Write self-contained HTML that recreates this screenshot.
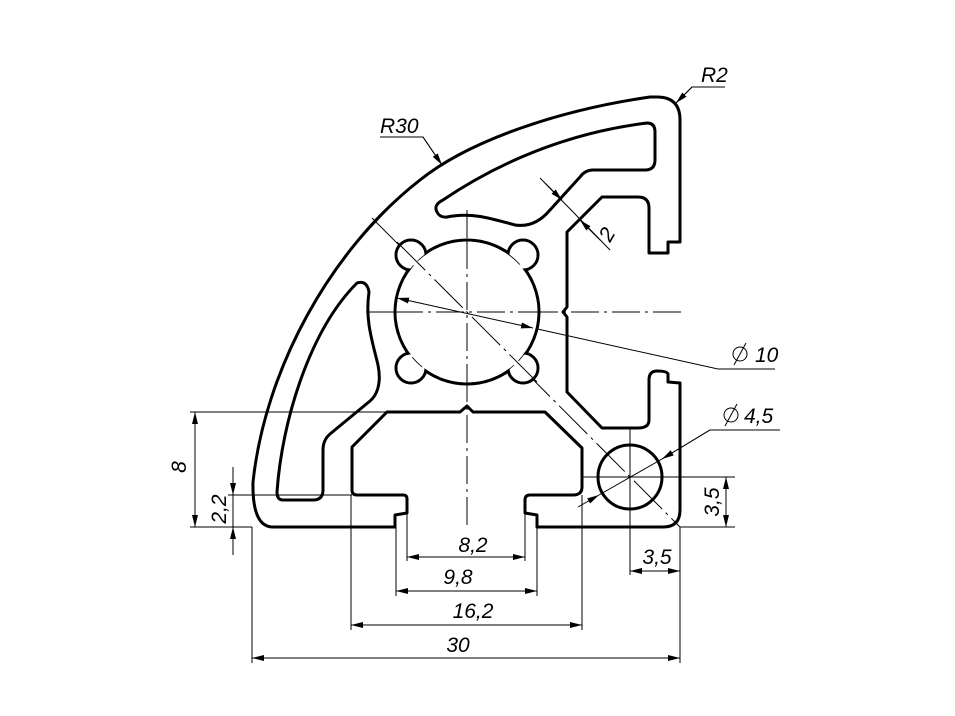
<!DOCTYPE html>
<html><head><meta charset="utf-8"><style>
html,body{margin:0;padding:0;background:#fff;}
svg{display:block}
text{font-family:"Liberation Sans",sans-serif;font-style:italic;font-size:21px;fill:#000}
</style></head><body>
<svg width="955" height="716" viewBox="0 0 955 716" xmlns="http://www.w3.org/2000/svg">
<defs>
<marker id="a" viewBox="0 0 12 6" refX="12" refY="3" markerWidth="12" markerHeight="6" markerUnits="userSpaceOnUse" orient="auto-start-reverse">
<path d="M0,0 L12,3 L0,6 Z" fill="#000"/>
</marker>
</defs>
<rect width="955" height="716" fill="#fff"/>

<!-- thin lines -->
<g stroke="#000" stroke-width="1" fill="none">
<!-- center lines -->
<line x1="366" y1="312" x2="682" y2="312" stroke-dasharray="28,5,3,5"/>
<line x1="467" y1="210" x2="467" y2="527" stroke-dasharray="28,5,3,5"/>
<line x1="372" y1="218" x2="680" y2="527" stroke-dasharray="40,5,3,5"/>
<circle cx="467" cy="312" r="71" stroke-width="0.8"/>
<line x1="583" y1="477" x2="735" y2="477"/>
<line x1="630" y1="428" x2="630" y2="575"/>
<!-- extension lines -->
<line x1="190" y1="412" x2="390" y2="412"/>
<line x1="190" y1="527" x2="252" y2="527"/>
<line x1="228" y1="495" x2="352" y2="495"/>
<line x1="680" y1="527" x2="735" y2="527"/>
<line x1="252" y1="527" x2="252" y2="663"/>
<line x1="680" y1="527" x2="680" y2="663"/>
<line x1="351" y1="495" x2="351" y2="630"/>
<line x1="582" y1="495" x2="582" y2="630"/>
<line x1="396" y1="527" x2="396" y2="596"/>
<line x1="537" y1="527" x2="537" y2="596"/>
<line x1="407" y1="513" x2="407" y2="561"/>
<line x1="525" y1="513" x2="525" y2="561"/>
<!-- dimension lines -->
<line x1="195" y1="412" x2="195" y2="527" marker-start="url(#a)" marker-end="url(#a)"/>
<line x1="233" y1="467" x2="233" y2="495" marker-end="url(#a)"/>
<line x1="233" y1="555" x2="233" y2="527" marker-end="url(#a)"/>
<line x1="233" y1="495" x2="233" y2="527"/>
<line x1="407" y1="557" x2="525" y2="557" marker-start="url(#a)" marker-end="url(#a)"/>
<line x1="396" y1="591" x2="537" y2="591" marker-start="url(#a)" marker-end="url(#a)"/>
<line x1="351" y1="625" x2="582" y2="625" marker-start="url(#a)" marker-end="url(#a)"/>
<line x1="252" y1="658" x2="680" y2="658" marker-start="url(#a)" marker-end="url(#a)"/>
<line x1="630" y1="571" x2="680" y2="571" marker-start="url(#a)" marker-end="url(#a)"/>
<line x1="726" y1="477" x2="726" y2="527" marker-start="url(#a)" marker-end="url(#a)"/>
<!-- diameter leaders -->
<line x1="397" y1="298" x2="533" y2="328" marker-start="url(#a)" marker-end="url(#a)"/>
<polyline points="533,328 718,369 775,369"/>
<line x1="578" y1="507" x2="599" y2="495" marker-end="url(#a)"/>
<line x1="599" y1="495" x2="662" y2="459"/>
<polyline points="662,459 710,430 780,430"/>
<line x1="710" y1="430" x2="662" y2="459" marker-end="url(#a)"/>
<!-- R30 -->
<polyline points="380,137 423,137 442,165" />
<line x1="423" y1="137" x2="442" y2="165" marker-end="url(#a)"/>
<!-- R2 -->
<polyline points="725,87 692,87 676,103"/>
<line x1="692" y1="87" x2="676" y2="103" marker-end="url(#a)"/>
<!-- 2 wall -->
<line x1="540" y1="178" x2="610" y2="250"/>
<line x1="545" y1="183" x2="562" y2="200" marker-end="url(#a)"/>
<line x1="600" y1="240" x2="580" y2="220" marker-end="url(#a)"/>
<!-- diameter symbols -->
<circle cx="740" cy="354" r="7"/>
<line x1="734" y1="365" x2="746" y2="343"/>
<circle cx="731" cy="415" r="7"/>
<line x1="725" y1="426" x2="737" y2="404"/>
</g>

<!-- profile -->
<g stroke="#000" stroke-width="3" fill="none" stroke-linejoin="round">
<path d="M273,527 L395,527 L395,515 L407,513 L407,499 Q407,495 403,495 L357,495 Q352,495 352,490 L352,447 L387,412 L460,412 L467,406 L473,412 L545,412 L582,448 L582,487 Q582,495 573,495 L530,495 Q525,495 525,500 L525,513 L537,515 L537,527 L663,527 Q680,527 680,510 L680,383 L668,382 L668,374 Q667,371 657,371 Q649,371 649,380 L649,420 Q649,428 638,428 L602,428 L567,392 L567,317 L563,312 L567,307 L567,232 L602,197 L638,197 Q649,197 649,208 L649,253 L668,253 L668,242 L680,242 L680,120 Q680,97 657,97 L650,97 C560,110 470,140 420,180 C330,250 265,370 253,482 Q252,527 273,527 Z"/>
<path d="M437,212 Q433,205 443,200 C480,175 550,135 647,123 Q655,123 655,132 L655,160 Q655,170 645,170 L593,170 Q585,170 580,177 L550,210 Q535,228 515,225 C490,218 470,212 447,217 Q440,218 437,212 Z"/>
<path d="M357,283 Q367,280 369,292 C365,320 372,340 378,365 C382,385 376,396 370,401 L330,434 Q323,440 323,450 L323,490 Q323,500 313,500 L283,500 Q277,500 277,492 C282,420 310,330 357,283 Z"/>
<circle cx="630" cy="477" r="32"/>
<g>
<circle cx="467" cy="312" r="72"/>
<circle cx="411" cy="255" r="15"/>
<circle cx="523" cy="255" r="15"/>
<circle cx="411" cy="368" r="15"/>
<circle cx="523" cy="368" r="15"/>
</g>
</g>
<!-- mask union interior -->
<g fill="#fff" stroke="none">
<circle cx="411" cy="255" r="13.5"/>
<circle cx="523" cy="255" r="13.5"/>
<circle cx="411" cy="368" r="13.5"/>
<circle cx="523" cy="368" r="13.5"/>
<circle cx="467" cy="312" r="70.5"/>
</g>
<!-- redraw thin lines inside the hole -->
<g stroke="#000" stroke-width="1" fill="none">
<circle cx="467" cy="312" r="71" stroke-width="0.8" stroke-dasharray="14,6"/>
<line x1="395" y1="312" x2="539" y2="312" stroke-dasharray="28,5,3,5"/>
<line x1="467" y1="241" x2="467" y2="383" stroke-dasharray="28,5,3,5"/>
<line x1="397" y1="242" x2="537" y2="382" stroke-dasharray="40,5,3,5"/>
<line x1="397" y1="298" x2="533" y2="328" marker-start="url(#a)" marker-end="url(#a)"/>
</g>

<!-- texts -->
<text x="473" y="552" text-anchor="middle">8,2</text>
<text x="458" y="584" text-anchor="middle">9,8</text>
<text x="473" y="618" text-anchor="middle">16,2</text>
<text x="458" y="652" text-anchor="middle">30</text>
<text x="657" y="564" text-anchor="middle">3,5</text>
<text transform="translate(719,502) rotate(-90)" text-anchor="middle">3,5</text>
<text transform="translate(226,509) rotate(-90)" text-anchor="middle">2,2</text>
<text transform="translate(186,467) rotate(-90)" text-anchor="middle">8</text>
<text x="380" y="133">R30</text>
<text x="701" y="82">R2</text>
<text x="755" y="362">10</text>
<text x="744" y="423">4,5</text>
<text transform="translate(613,238) rotate(-60)" text-anchor="middle" font-size="19">2</text>
</svg>
</body></html>
